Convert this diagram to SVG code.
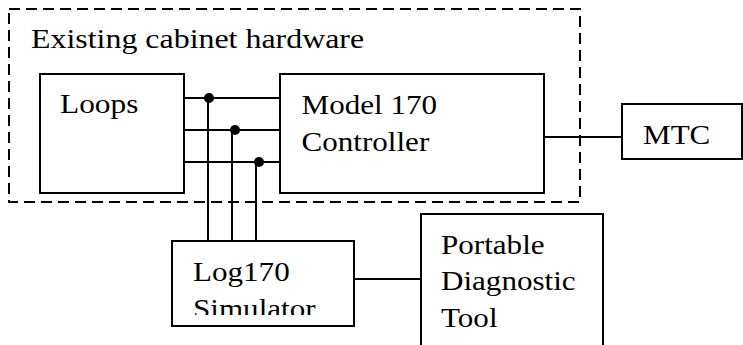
<svg xmlns="http://www.w3.org/2000/svg" width="743" height="345" viewBox="0 0 743 345" font-family="Liberation Serif" font-size="28">
<style>
.box{fill:#fff;stroke:#000;stroke-width:2}
.ln{fill:none;stroke:#000;stroke-width:2}
</style>
<defs>
<clipPath id="simclip"><rect x="172" y="241" width="182" height="74"/></clipPath>
</defs>
<rect width="743" height="345" fill="#fff"/>
<g id="cabinet">
<rect x="9" y="9" width="571" height="193" fill="none" stroke="#000" stroke-width="2" stroke-dasharray="11,6"/>
<text transform="translate(31,48) scale(1.14,1)" x="0" y="0">Existing cabinet hardware</text>
</g>
<g id="connectors">
<path class="ln" d="M184,98H280M184,130H280M184,162H280"/>
<path class="ln" d="M208,98V241M232,130V241M256,162V241"/>
<circle cx="209" cy="98" r="5"/>
<circle cx="235" cy="130" r="5"/>
<circle cx="259" cy="162" r="5"/>
<path class="ln" d="M544,137H622"/>
<path class="ln" d="M354,279H421"/>
</g>
<g id="loops">
<rect class="box" x="40" y="74" width="144" height="119"/>
<text transform="translate(60,113) scale(1.12,1)">Loops</text>
</g>
<g id="controller">
<rect class="box" x="280" y="74" width="264" height="119"/>
<text transform="translate(301.5,114) scale(1.11,1)">Model 170</text>
<text transform="translate(301.5,151) scale(1.11,1)">Controller</text>
</g>
<g id="mtc">
<rect class="box" x="622" y="104" width="120" height="55"/>
<text transform="translate(643,144) scale(1.11,1)">MTC</text>
</g>
<g id="simulator">
<rect class="box" x="172" y="241" width="182" height="85"/>
<text transform="translate(193,281) scale(1.11,1)">Log170</text>
<g clip-path="url(#simclip)"><text transform="translate(193,318) scale(1.11,1)">Simulator</text></g>
</g>
<g id="tool">
<rect class="box" x="421" y="214" width="182" height="150"/>
<text transform="translate(441,254) scale(1.11,1)">Portable</text>
<text transform="translate(441,290) scale(1.11,1)">Diagnostic</text>
<text transform="translate(441,327) scale(1.11,1)">Tool</text>
</g>
</svg>
